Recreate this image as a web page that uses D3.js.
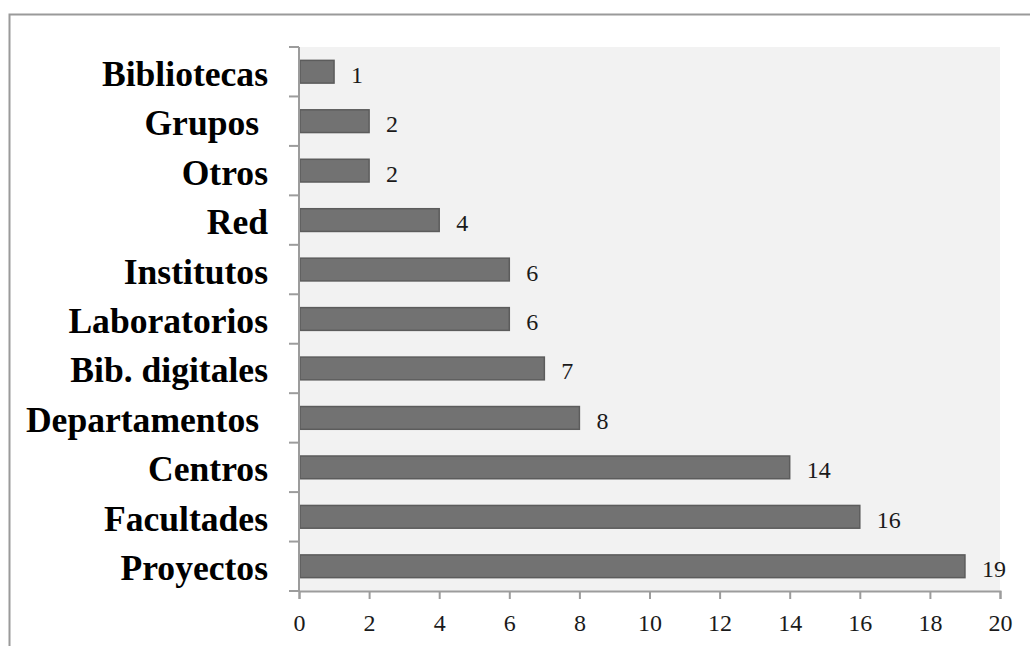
<!DOCTYPE html>
<html>
<head>
<meta charset="utf-8">
<script src="https://cdn.jsdelivr.net/npm/d3@7"></script>
<style>
  html, body { margin: 0; padding: 0; background: #ffffff; }
  svg { display: block; }
</style>
</head>
<body>
<svg id="chart" width="1030" height="646"></svg>
<script>
const categories = ["Bibliotecas", "Grupos ", "Otros", "Red", "Institutos", "Laboratorios", "Bib. digitales", "Departamentos ", "Centros", "Facultades", "Proyectos"];
const values = [1, 2, 2, 4, 6, 6, 7, 8, 14, 16, 19];
const xTicks = [0, 2, 4, 6, 8, 10, 12, 14, 16, 18, 20];

(function () {
const svg = d3.select("#chart");
const pLeft = 299, pRight = 1000, pTop = 47, pBottom = 591;

// outer border
svg.append("rect")
  .attr("x", 9.5).attr("y", 14.5)
  .attr("width", 1040).attr("height", 660)
  .attr("fill", "none").attr("stroke", "#9a9a9a").attr("stroke-width", 2);

// plot background
svg.append("rect")
  .attr("x", pLeft).attr("y", pTop)
  .attr("width", pRight - pLeft).attr("height", pBottom - pTop)
  .attr("fill", "#f2f2f2");

const x = d3.scaleLinear().domain([0, 20]).range([pLeft, pRight]);
const y = d3.scaleBand().domain(categories).range([pTop, pBottom]).paddingInner(0.54).paddingOuter(0.27);
const yb = d3.scaleBand().domain(categories).range([pTop, pBottom]);

// bars
svg.append("g").selectAll("rect")
  .data(categories)
  .join("rect")
  .attr("x", x(0) + 1)
  .attr("y", d => y(d))
  .attr("width", (d, i) => x(values[i]) - x(0) - 1)
  .attr("height", y.bandwidth())
  .attr("fill", "#727272")
  .attr("stroke", "#5c5c5c")
  .attr("stroke-width", 1.5);

// value labels
svg.append("g").selectAll("text")
  .data(categories)
  .join("text")
  .attr("x", (d, i) => x(values[i]) + 17)
  .attr("y", d => yb(d) + yb.bandwidth() / 2 + 11)
  .attr("font-family", "'Liberation Serif', 'DejaVu Serif', serif")
  .attr("font-size", 24)
  .attr("fill", "#1a1a1a")
  .text((d, i) => values[i]);

// y axis line + boundary ticks
const axisColor = "#9c9c9c";
svg.append("line")
  .attr("x1", pLeft).attr("x2", pLeft)
  .attr("y1", pTop).attr("y2", pBottom + 1)
  .attr("stroke", axisColor).attr("stroke-width", 2);
const boundaries = categories.map(d => yb(d)).concat([pBottom]);
svg.append("g").selectAll("line")
  .data(boundaries)
  .join("line")
  .attr("x1", pLeft - 10).attr("x2", pLeft)
  .attr("y1", d => d).attr("y2", d => d)
  .attr("stroke", axisColor).attr("stroke-width", 2);

// category labels
svg.append("g").selectAll("text")
  .data(categories)
  .join("text")
  .attr("x", 268)
  .attr("y", d => yb(d) + yb.bandwidth() / 2 + 14)
  .attr("text-anchor", "end")
  .style("white-space", "pre")
  .attr("font-family", "'Liberation Serif', 'DejaVu Serif', serif")
  .attr("font-weight", "bold")
  .attr("font-size", 35.6)
  .attr("fill", "#000")
  .text(d => d);

// x axis
const xAxis = d3.axisBottom(x).tickValues(xTicks).tickSize(8).tickPadding(15).tickFormat(d3.format("d"));
const gx = svg.append("g").attr("transform", `translate(0,${pBottom})`).call(xAxis);
gx.select(".domain").attr("stroke", axisColor).attr("stroke-width", 2);
gx.selectAll(".tick line").attr("stroke", axisColor).attr("stroke-width", 2);
gx.selectAll(".tick text")
  .attr("font-family", "'Liberation Serif', 'DejaVu Serif', serif")
  .attr("font-size", 24)
  .attr("fill", "#1a1a1a");
})();
</script>
</body>
</html>
